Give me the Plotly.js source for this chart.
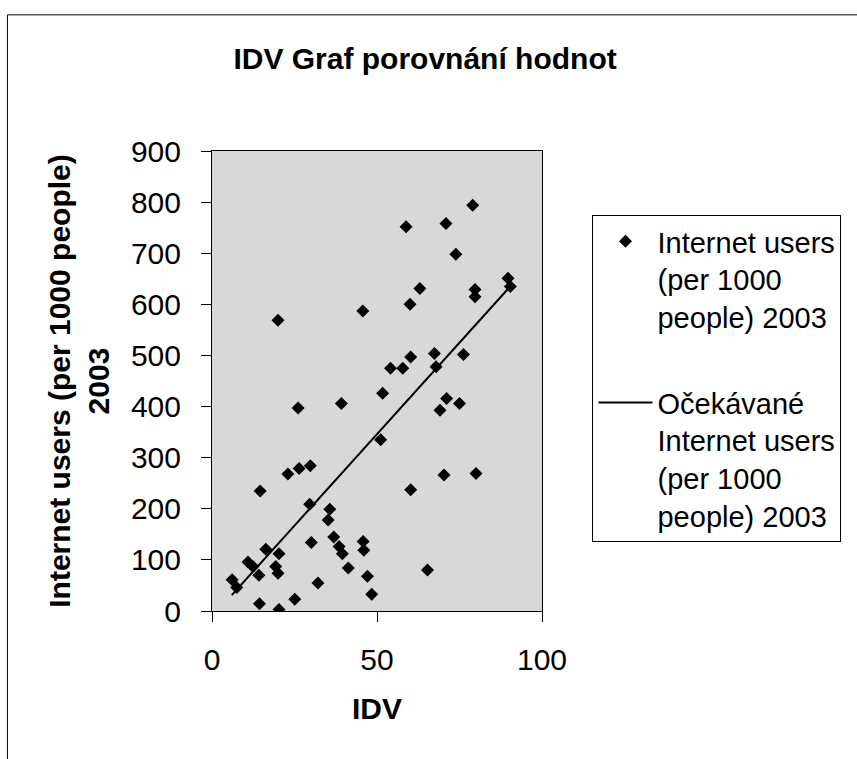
<!DOCTYPE html>
<html>
<head>
<meta charset="utf-8">
<script src="https://cdn.plot.ly/plotly-3.0.1.min.js"></script>
<style>html,body{margin:0;padding:0;background:#fff;}#chart{width:857px;height:759px;}</style>
</head>
<body>
<div id="chart"></div>
<script>
// IDV values (x) and Internet users per 1000 people 2003 (y)
const idv = [6.1, 7.5, 10.9, 12.4, 14.2, 14.6, 14.4, 16.3, 19.3, 20.0, 20.3, 20.3, 20.0, 23.0, 25.1, 26.1, 26.4, 29.8, 29.6, 30.1, 32.1, 35.2, 35.7, 36.9, 38.5, 39.5, 39.2, 41.3, 45.8, 46.0, 45.7, 47.1, 48.4, 51.1, 51.7, 54.1, 57.8, 58.8, 60.0, 60.2, 60.2, 63.0, 65.3, 67.4, 67.9, 69.1, 70.3, 70.9, 71.1, 73.9, 75.0, 76.2, 79.0, 79.7, 79.7, 80.0, 89.7, 90.4];
const users = [61, 46, 96, 87, 70, 235, 14, 121, 87, 74, 112, 3, 569, 268, 23, 397, 279, 284, 209, 134, 55, 178, 199, 145, 126, 112, 406, 84, 136, 119, 587, 68, 33, 335, 426, 475, 475, 752, 600, 497, 237, 631, 80, 504, 478, 393, 266, 758, 416, 698, 406, 502, 794, 629, 615, 269, 651, 635];
// Expected (fitted) line end points
const fitX = [6.0, 90.5];
const fitY = [31, 636];

const seriesNames = ["Internet users<br>(per 1000<br>people) 2003", "Očekávané<br>Internet users<br>(per 1000<br>people) 2003"];
const titleText = "IDV Graf porovnání hodnot";
const xTitle = "IDV";
const yTitle = "Internet users (per 1000 people)<br>2003";
const xTicks = [0, 50, 100];
const yTicks = [0, 100, 200, 300, 400, 500, 600, 700, 800, 900];

const FONT = 'Arial, "Liberation Sans", sans-serif';

const traces = [
  {x: idv, y: users, type: 'scatter', mode: 'markers', name: seriesNames[0], legendgroup: 'a',
   marker: {symbol: 'diamond', size: 10, color: '#000'}},
  {x: fitX, y: fitY, type: 'scatter', mode: 'lines', name: seriesNames[1], legendgroup: 'b',
   line: {color: '#000', width: 2}}
];

const layout = {
  width: 857, height: 759,
  margin: {l: 212, r: 315, t: 151, b: 148},
  paper_bgcolor: '#fff',
  plot_bgcolor: '#d8d8d8',
  font: {family: FONT, color: '#000', size: 30},
  showlegend: true,
  title: {text: '<b>' + titleText + '</b>', font: {family: FONT, size: 30, color: '#000'},
          xref: 'container', x: 0.496, xanchor: 'center', yref: 'container', y: 0.923, yanchor: 'middle'},
  xaxis: {range: [0, 100], tickvals: xTicks, ticktext: xTicks.map(String), ticks: 'outside', ticklen: 10,
          tickcolor: '#000', showgrid: false, zeroline: false, showline: true, mirror: true,
          linecolor: '#000', linewidth: 1, tickfont: {size: 30}, ticklabelstandoff: 12,
          title: {text: '<b>' + xTitle + '</b>', font: {size: 30}, standoff: 22}},
  yaxis: {range: [0, 900], tickvals: yTicks, ticktext: yTicks.map(String), ticks: 'outside', ticklen: 10,
          tickcolor: '#000', showgrid: false, zeroline: false, showline: true, mirror: true,
          linecolor: '#000', linewidth: 1, tickfont: {size: 30}, ticklabelstandoff: 14,
          title: {text: '<b>' + yTitle + '</b>', font: {size: 30}, standoff: 12}},
  legend: {x: 1.153, xanchor: 'left', y: 0.861, yanchor: 'top', bgcolor: '#fff',
           bordercolor: '#000', borderwidth: 1, font: {size: 29}, itemwidth: 54,
           tracegroupgap: 45, traceorder: 'grouped', valign: 'top'},
  shapes: [
    {type: 'rect', xref: 'paper', yref: 'paper', x0: -0.62, x1: 1.96, y0: -0.36, y1: 1.296,
     line: {color: '#000', width: 1}, fillcolor: 'rgba(0,0,0,0)', layer: 'below'}
  ]
};

Plotly.newPlot('chart', traces, layout, {displayModeBar: false, staticPlot: true});
</script>
</body>
</html>
